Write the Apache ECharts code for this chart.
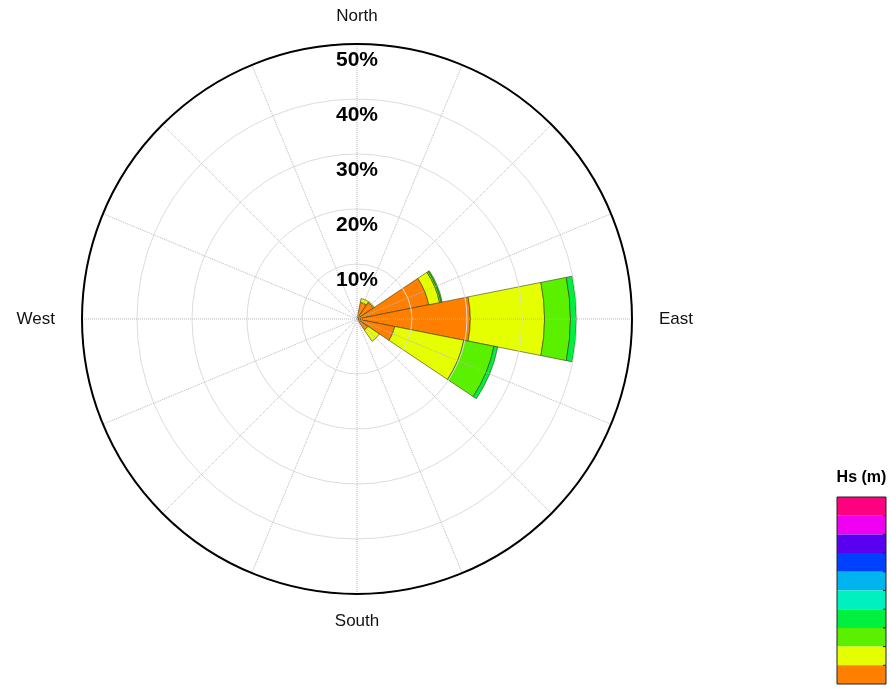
<!DOCTYPE html>
<html>
<head>
<meta charset="utf-8">
<script src="https://cdn.jsdelivr.net/npm/echarts@6/dist/echarts.min.js"></script>
<style>
html,body{margin:0;padding:0;background:#fff;}
#chart{width:891px;height:695px;}
</style>
</head>
<body>
<div id="chart"></div>
<script>
// Direction sectors (16 x 22.5 deg)
const directions = ['N','NNE','NE','ENE','E','ESE','SE','SSE','S','SSW','SW','WSW','W','WNW','NW','NNW'];
// Percent of occurrence per Hs class (stacked from the centre outwards)
const hsClass1 = [0, 3.1, 3.6, 13.3, 20.6, 7.0, 2.4, 0, 0, 0, 0, 0, 0, 0, 0, 0];
const hsClass2 = [0, 0.7, 0.2, 2.0, 13.5, 12.8, 2.5, 0, 0, 0, 0, 0, 0, 0, 0, 0];
const hsClass3 = [0, 0, 0, 0.3, 4.7, 5.6, 0, 0, 0, 0, 0, 0, 0, 0, 0, 0];
const hsClass4 = [0, 0, 0, 0.2, 1.1, 0.7, 0, 0, 0, 0, 0, 0, 0, 0, 0, 0];
const seriesData = [hsClass1, hsClass2, hsClass3, hsClass4];
// Colour scale, lowest class first
const classColors = ['#FF8000','#E6FF00','#5AF000','#00F040','#00F0C0','#00B4F0','#0040FF','#5A00F0','#F000F0','#FF0080'];
// Radius ticks (%)
const radiusTicks = [10, 20, 30, 40, 50];
const compassLabels = {0:'North', 90:'East', 180:'South', 270:'West'};

const FONT = "'Liberation Sans', Arial, sans-serif";
const chart = echarts.init(document.getElementById('chart'), null, {renderer:'canvas'});

const series = seriesData.map((arr, i) => ({
  type: 'bar',
  coordinateSystem: 'polar',
  polarIndex: 0,
  stack: 'hs',
  barCategoryGap: '0%',
  z: 2,
  data: arr.map(v => v === 0 ? null : v),
  itemStyle: {color: classColors[i], borderColor: '#3b3b10', borderWidth: 0.6}
}));

// Legend colour bar (top = highest class)
const legX = 837, legY = 497, legW = 49, legH = 187;
const cellH = legH / classColors.length;
const graphics = [{
  type: 'text', x: legX + legW / 2, y: 478,
  style: {text: 'Hs (m)', fontFamily: FONT, fontWeight: 'bold', fontSize: 16, fill: '#000', align: 'center', verticalAlign: 'middle'}
}];
classColors.slice().reverse().forEach((c, i) => {
  graphics.push({type: 'rect', shape: {x: legX, y: legY + i * cellH, width: legW, height: cellH}, style: {fill: c}});
  if (i > 0) graphics.push({type: 'line', shape: {x1: legX + legW - 3, y1: legY + i * cellH, x2: legX + legW, y2: legY + i * cellH}, style: {stroke: '#222', lineWidth: 1}});
});
graphics.push({type: 'rect', shape: {x: legX, y: legY, width: legW, height: legH}, style: {fill: null, stroke: '#222', lineWidth: 1}});

const option = {
  animation: false,
  backgroundColor: '#fff',
  polar: [
    {center: [357, 319], radius: 275},
    {center: [357, 319], radius: 275}
  ],
  angleAxis: [
    {polarIndex: 0, type: 'category', data: directions, startAngle: 101.25, clockwise: true, boundaryGap: true,
     axisLine: {show: false}, axisTick: {show: false}, axisLabel: {show: false}, splitLine: {show: false}, z: 0},
    {polarIndex: 1, type: 'value', min: 0, max: 360, interval: 22.5, startAngle: 90, clockwise: true, z: 5,
     axisLine: {show: true, lineStyle: {color: '#000', width: 2}},
     axisTick: {show: false},
     axisLabel: {show: true, margin: 19, color: '#111', fontFamily: FONT, fontSize: 17,
       formatter: v => {
         const t = compassLabels[v];
         if (!t) return '';
         return (v === 90 || v === 270) ? '{h|' + t + '}' : t;
       },
       rich: {h: {fontFamily: FONT, fontSize: 17, color: '#111', padding: [0, 8, 0, 8]}}
     },
     splitLine: {show: true, lineStyle: {color: '#b8b8b8', type: 'dotted', width: 1}}}
  ],
  radiusAxis: [
    {polarIndex: 0, type: 'value', min: 0, max: 50, show: false},
    {polarIndex: 1, type: 'value', min: 0, max: 50, interval: 10, z: 5,
     axisLine: {show: false}, axisTick: {show: false},
     splitLine: {show: true, lineStyle: {color: '#dcdcdc', width: 1}},
     axisLabel: {show: true, margin: 0, align: 'center', verticalAlign: 'top', padding: [6, 0, 0, 0],
       fontFamily: FONT, fontWeight: 'bold', fontSize: 21, color: '#000',
       formatter: v => radiusTicks.indexOf(v) >= 0 ? v + '%' : ''}}
  ],
  series: series,
  graphic: graphics
};
chart.setOption(option);
</script>
</body>
</html>
